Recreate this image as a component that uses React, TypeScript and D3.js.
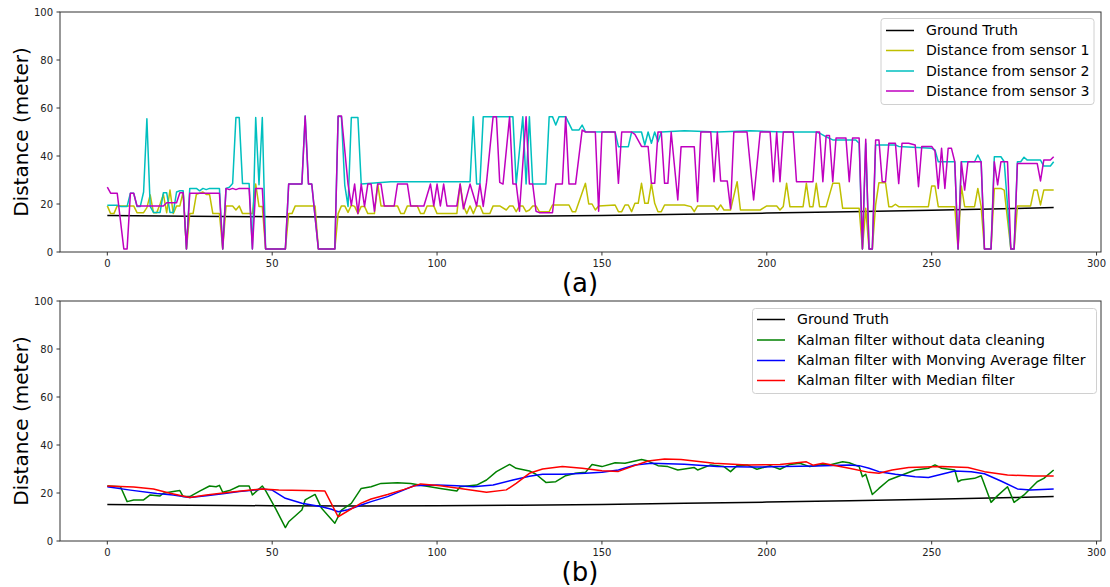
import React from "react";
import * as d3 from "d3";

// Each series is a list of [sample index, distance in metres] vertices.
type Pt = [number, number];

const xTicks = [0, 50, 100, 150, 200, 250, 300];
const yTicks = [0, 20, 40, 60, 80, 100];

const groundTruth: Pt[] = [
  [0, 15.2], [25, 14.9], [50, 14.7], [75, 14.6], [100, 14.7], [125, 14.9], [150, 15.2],
  [175, 15.7], [200, 16.2], [225, 16.8], [250, 17.4], [275, 18.1], [287, 18.5],
];

const sensor1: Pt[] = [
  [0, 19.2], [1, 16], [2, 16], [3, 19.2], [8, 19.2], [9, 16.4], [11, 16.4], [12, 18.5], [13, 23.8], [14, 16.4],
  [15, 16.4], [16, 20], [17, 24], [18, 16.4], [19, 25.8], [20, 16], [21, 19.2], [22, 19.2], [23, 25], [24, 1.3],
  [25, 16], [26, 16], [27, 24], [29, 25], [30, 24], [31, 24], [32, 16], [34, 16], [35, 1.3], [36, 19.2],
  [38, 19.2], [39, 17.5], [40, 19.2], [41, 16], [44, 16], [45, 28.3], [46, 19], [47, 19], [48, 1.3], [54, 1.3],
  [55, 16], [56, 16], [57, 19.2], [63, 19.2], [64, 1.3], [69, 1.3], [70, 16], [71, 19.2], [72, 19.2], [73, 16.5],
  [74, 19.5], [75, 19], [76, 16], [77, 19], [78, 19], [79, 16], [81, 16], [82, 28.3], [83, 19.2], [88, 19.2],
  [89, 16], [90, 16], [91, 19.2], [94, 19.2], [95, 16], [96, 16], [97, 19.2], [99, 19.2], [100, 16], [106, 16],
  [107, 28.3], [108, 19.2], [109, 16], [110, 19.2], [111, 16], [112, 19.2], [113, 19.2], [114, 16], [116, 16], [117, 19.2],
  [119, 19.2], [121, 17.5], [122, 19.2], [123, 19.2], [124, 16.8], [125, 19.2], [126, 19.2], [127, 16.8], [128, 17.5], [129, 19.2],
  [130, 19.2], [131, 16.8], [134, 16.8], [135, 19.6], [140, 19.6], [141, 16.8], [142, 16.8], [145, 28.6], [146, 20], [147, 20],
  [148, 17.5], [149, 19.2], [154, 19.6], [155, 16.8], [156, 16.8], [157, 19.6], [158, 19.6], [159, 16.8], [160, 20.3], [161, 20.3],
  [162, 28.6], [163, 20.3], [164, 20.3], [165, 28.6], [166, 20.3], [167, 16.8], [168, 16.8], [169, 19.6], [175, 19.6], [177, 18.9],
  [178, 16.8], [179, 19.2], [184, 19.2], [185, 17.5], [186, 19.6], [187, 17.5], [189, 17.5], [191, 29.3], [192, 17.5], [198, 17.5],
  [200, 19.2], [203, 19.2], [204, 17.5], [205, 19], [206, 28.6], [207, 18.9], [211, 18.9], [212, 28.6], [213, 18.9], [214, 18.9],
  [215, 28.6], [216, 18.9], [218, 18.9], [220, 28.6], [222, 28.6], [223, 18.2], [228, 18.2], [229, 1.3], [230, 18.2], [231, 1.3],
  [232, 1.3], [233, 19.6], [234, 28.9], [236, 28.9], [237, 18.9], [238, 18.9], [239, 19.9], [240, 18.9], [249, 18.9], [250, 27.5],
  [251, 27.5], [252, 18.9], [257, 18.9], [258, 1.3], [259, 27.5], [260, 18.9], [263, 18.9], [264, 26.5], [265, 18.9], [266, 1.3],
  [268, 1.3], [269, 26.5], [271, 26.5], [272, 25.8], [274, 1.3], [275, 1.3], [276, 19.2], [280, 19.2], [281, 25.8], [282, 25.8],
  [283, 19.6], [284, 25.8], [287, 25.8],
];

const sensor2: Pt[] = [
  [0, 19.5], [3, 19.5], [4, 19], [6, 19], [7, 24.5], [8, 24.5], [9, 19], [10, 19], [11, 25], [12, 55.5],
  [13, 19], [14, 16.5], [16, 16.5], [17, 24.7], [18, 24.7], [19, 16.5], [20, 16.5], [21, 25], [22, 25.5], [23, 25.5],
  [24, 1.3], [25, 26.5], [27, 26.5], [28, 25.5], [29, 26.5], [30, 26], [31, 26.5], [34, 26.5], [35, 1.3], [36, 26.5],
  [37, 27], [38, 28.5], [39, 56], [40, 56], [41, 28.5], [43, 28.5], [44, 1.3], [45, 56], [46, 28], [47, 56],
  [48, 1.3], [54, 1.3], [55, 28.3], [59, 28.3], [60, 56.7], [61, 28.3], [62, 28.3], [64, 1.3], [69, 1.3], [70, 56.5],
  [71, 56.5], [72, 28], [73, 19], [74, 56], [76, 56], [77, 28.3], [86, 29.3], [110, 29.3], [111, 56.4], [112, 28.3],
  [113, 28.3], [114, 56.4], [123, 56.4], [124, 28.3], [126, 56.4], [127, 28.3], [128, 56.4], [129, 28.3], [133, 28.3], [134, 56.4],
  [135, 56.4], [136, 52.9], [137, 56.4], [139, 56.4], [141, 50.8], [143, 50.8], [144, 52.9], [145, 50.1], [154, 50], [155, 43.9],
  [158, 43.9], [159, 50], [162, 50], [163, 44.6], [164, 50], [165, 45.3], [166, 50], [167, 45.9], [168, 50], [175, 50.5],
  [185, 50], [195, 50.5], [205, 50], [215, 50], [216, 49.5], [218, 48], [220, 46.7], [227, 46.7], [228, 45.3], [229, 1.3],
  [230, 45.3], [231, 1.3], [232, 1.3], [233, 44.6], [239, 44.6], [240, 44], [250, 43.2], [251, 42.5], [252, 37.6], [257, 37.6],
  [258, 1.3], [259, 37.6], [263, 37.6], [264, 40.4], [265, 37.6], [266, 1.3], [268, 1.3], [269, 39.7], [271, 39.7], [272, 37.6],
  [274, 1.3], [275, 1.3], [276, 37.6], [277, 37.6], [278, 39.5], [279, 38.3], [283, 38.3], [284, 35.8], [286, 35.8], [287, 37.6],
];

const sensor3: Pt[] = [
  [0, 27], [1, 24.5], [3, 24.5], [5, 1.3], [6, 1.3], [7, 24.5], [8, 24.5], [9, 19.2], [17, 19.2], [18, 20.5],
  [21, 20.5], [22, 24.7], [23, 24.7], [24, 1.3], [25, 24.5], [34, 24.5], [35, 1.3], [36, 26.5], [37, 26], [38, 26.5],
  [39, 26], [40, 26.5], [43, 26.5], [44, 1.3], [45, 26.5], [47, 26.5], [48, 1.3], [54, 1.3], [55, 28.3], [59, 28.3],
  [60, 56.7], [61, 28.3], [62, 28.3], [64, 1.3], [69, 1.3], [70, 56.7], [71, 56.7], [73, 28.3], [74, 19.4], [75, 28.3],
  [76, 16], [77, 28.3], [78, 19], [79, 28.3], [80, 28.3], [81, 17], [82, 28.3], [83, 28.3], [84, 19.2], [87, 19.2],
  [88, 28.3], [91, 28.3], [92, 19.2], [96, 19.2], [98, 28.3], [99, 19.2], [100, 28.3], [101, 19.2], [102, 28.3], [103, 19.2],
  [106, 19.2], [107, 28.3], [108, 18], [110, 28.3], [112, 19.2], [113, 28.3], [114, 19], [115, 29], [117, 56.4], [118, 56.4],
  [119, 29], [120, 28.3], [122, 56.4], [123, 28.3], [124, 28.3], [125, 17], [127, 56.4], [128, 28.3], [129, 28.3], [130, 17],
  [131, 16.4], [135, 16.4], [136, 28.3], [138, 28.3], [139, 56.4], [140, 28.3], [142, 28.3], [144, 50.8], [145, 50], [148, 50],
  [149, 17], [150, 50], [154, 50], [155, 28.6], [156, 50], [159, 50], [160, 49], [162, 44], [164, 44], [165, 28.6],
  [166, 28.6], [167, 50], [168, 50], [169, 28.6], [170, 28.6], [171, 50], [173, 21.7], [174, 43.9], [178, 43.9], [179, 21],
  [180, 50], [183, 50], [184, 29.3], [185, 50], [186, 29.6], [188, 29.6], [189, 18], [190, 50], [194, 50], [196, 21.7],
  [198, 50], [201, 50], [202, 29.3], [203, 50], [204, 29.3], [205, 50], [208, 50], [209, 29.3], [214, 29.3], [215, 50],
  [216, 50], [217, 29.3], [218, 48.5], [219, 48.5], [220, 29.3], [221, 47.5], [224, 47.5], [225, 29.3], [226, 47.5], [228, 47.5],
  [229, 1.3], [230, 47], [231, 1.3], [232, 1.3], [233, 46.7], [234, 46.7], [235, 29.3], [236, 29.3], [237, 45.3], [239, 45.3],
  [240, 28.5], [241, 45.3], [243, 45.3], [245, 44.6], [246, 27.2], [247, 44], [250, 44], [251, 42], [252, 26.5], [253, 43.2],
  [254, 26.5], [255, 43.2], [256, 43.2], [257, 37.6], [258, 1.3], [259, 37.6], [260, 25.8], [261, 37.6], [265, 37.6], [266, 1.3],
  [268, 1.3], [269, 37.6], [270, 28], [271, 37.6], [273, 37.6], [274, 1.3], [275, 1.3], [276, 36.9], [282, 36.9], [283, 29.6],
  [284, 38.3], [286, 38.3], [287, 39.7],
];

const kfRaw: Pt[] = [
  [0, 22.9], [4, 22.6], [6, 16.4], [8, 17.1], [11, 17.1], [13, 19.2], [16, 18.8], [17, 19.9], [20, 20.6], [22, 21],
  [23, 18.5], [25, 18.5], [28, 20.8], [31, 22.9], [33, 22.6], [34, 23.2], [35, 20.3], [37, 21], [40, 22.9], [43, 22.9],
  [44, 19.2], [47, 22.9], [48, 21], [51, 13.6], [54, 5.6], [55, 8], [59, 12.9], [60, 17.1], [63, 19.4], [65, 13.6],
  [69, 7.4], [71, 12.9], [74, 15.7], [77, 21.9], [80, 22.6], [83, 24], [88, 24.3], [92, 24], [96, 23], [101, 21.9],
  [106, 20.8], [107, 22.6], [112, 23.3], [115, 25.4], [118, 28.9], [122, 31.9], [124, 30.3], [128, 29.2], [130, 27.8], [133, 24.4],
  [136, 24.7], [139, 27.2], [142, 28.2], [145, 28.6], [147, 31.9], [150, 31], [154, 32.6], [157, 32.4], [162, 34], [164, 33.3],
  [167, 31.4], [170, 31], [173, 29.6], [178, 30.6], [179, 29.6], [183, 31.7], [187, 31], [189, 28.9], [191, 31.4], [194, 31.7],
  [197, 29.9], [201, 31.4], [204, 29.9], [207, 31.9], [210, 32.4], [213, 31], [217, 31.9], [219, 31.7], [223, 33], [225, 32.6],
  [228, 31], [229, 26.8], [230, 27.8], [232, 19.4], [234, 21.9], [237, 25.4], [241, 27.5], [245, 29.6], [249, 30.3], [251, 31.7],
  [253, 30.3], [257, 29.6], [258, 24.7], [259, 25.4], [263, 26.1], [265, 27.2], [268, 16.1], [270, 18.9], [273, 22.6], [275, 16.1],
  [278, 19.2], [282, 24.7], [284, 26.1], [287, 29.6],
];

const kfMovingAvg: Pt[] = [
  [0, 22.6], [7, 21.2], [15, 19.8], [20, 19.2], [25, 18.1], [30, 18.9], [35, 19.7], [40, 20.6], [44, 21.1], [47, 21.7],
  [50, 21.2], [54, 17.8], [59, 15.7], [65, 14.3], [68, 13.2], [70, 12.2], [73, 13], [77, 15], [80, 16.4], [85, 18.5],
  [90, 21.3], [93, 23], [100, 23.3], [106, 23], [111, 22.6], [117, 23.3], [123, 25.4], [128, 27], [132, 27.8], [138, 27.8],
  [145, 28.2], [150, 28.6], [155, 29.6], [160, 31.7], [165, 32.4], [175, 32], [185, 31], [195, 30.8], [205, 31], [215, 31.2],
  [225, 31.7], [228, 31.4], [231, 30.3], [234, 28.9], [239, 27.8], [245, 26.8], [249, 26.5], [253, 27.8], [257, 29.2], [262, 28.9],
  [266, 28], [271, 25], [276, 21.7], [280, 21.3], [287, 21.7],
];

const kfMedian: Pt[] = [
  [0, 22.9], [8, 22.5], [14, 21.7], [19, 19.9], [25, 18.1], [30, 19.2], [37, 20.3], [47, 21.7], [52, 21.3], [60, 21],
  [66, 20.8], [70, 10.1], [77, 15.8], [80, 17.5], [85, 19.4], [90, 21.5], [95, 23.8], [101, 23], [107, 21.9], [115, 20.3],
  [121, 21.3], [124, 24], [128, 28.2], [132, 30], [138, 31], [144, 30.3], [150, 29.3], [155, 29], [159, 31], [164, 33.3],
  [169, 34.2], [174, 34], [184, 32.4], [194, 31.7], [204, 31.9], [212, 33], [214, 31.6], [217, 32.4], [219, 31.9], [225, 30.3],
  [231, 28.6], [234, 28.2], [238, 29.6], [243, 30.6], [253, 31], [261, 30.6], [266, 28.9], [273, 27.5], [281, 27.1], [287, 27.1],
];

const topSeries = [
  { name: "Ground Truth", color: "#000000", data: groundTruth },
  { name: "Distance from sensor 1", color: "#bfbf00", data: sensor1 },
  { name: "Distance from sensor 2", color: "#00bfbf", data: sensor2 },
  { name: "Distance from sensor 3", color: "#bf00bf", data: sensor3 },
];

const bottomSeries = [
  { name: "Ground Truth", color: "#000000", data: groundTruth },
  { name: "Kalman filter without data cleaning", color: "#008000", data: kfRaw },
  { name: "Kalman filter with Monving Average filter", color: "#0000ff", data: kfMovingAvg },
  { name: "Kalman filter with Median filter", color: "#ff0000", data: kfMedian },
];

const FONT = "DejaVu Sans, sans-serif";
const AXIS = "#333333";

const x = d3.scaleLinear().domain([-14.35, 301.35]).range([60, 1101]);

type Series = { name: string; color: string; data: Pt[] };

function Panel({ top, bottom, series, tag, legend }: {
  top: number; bottom: number; series: Series[]; tag: string;
  legend: { x: number; y: number; w: number; h: number; handle: number; text: number; rows: number[] };
}) {
  const y = d3.scaleLinear().domain([0, 100]).range([bottom, top]);
  const line = d3.line<Pt>().x((d) => x(d[0])).y((d) => y(d[1]));
  const [x0, x1] = x.range();
  return (
    <g>
      <defs>
        <clipPath id={`clip-${tag}`}>
          <rect x={x0} y={top} width={x1 - x0} height={bottom - top} />
        </clipPath>
      </defs>
      <g clipPath={`url(#clip-${tag})`}>
        {series.map((s) => (
          <path key={s.name} d={line(s.data) ?? ""} fill="none" stroke={s.color} strokeWidth={1.5} strokeLinejoin="round" />
        ))}
      </g>
      <rect x={x0} y={top} width={x1 - x0} height={bottom - top} fill="none" stroke={AXIS} strokeWidth={1} />
      {xTicks.map((t) => (
        <g key={t} transform={`translate(${x(t)},${bottom})`}>
          <line y2={3.5} stroke={AXIS} />
          <text y={15} textAnchor="middle" fontSize={10} fontFamily={FONT} fill="#222">{t}</text>
        </g>
      ))}
      {yTicks.map((t) => (
        <g key={t} transform={`translate(${x0},${y(t)})`}>
          <line x2={-3.5} stroke={AXIS} />
          <text x={-7} dy="0.35em" textAnchor="end" fontSize={10} fontFamily={FONT} fill="#222">{t}</text>
        </g>
      ))}
      <text transform={`translate(28,${(top + bottom) / 2}) rotate(-90)`} textAnchor="middle" fontSize={20} fontFamily={FONT} fill="#000">
        Distance (meter)
      </text>
      <g>
        <rect x={legend.x} y={legend.y} width={legend.w} height={legend.h} rx={3} fill="#ffffff" fillOpacity={0.8} stroke="#d0d0d0" />
        {series.map((s, i) => (
          <g key={s.name} transform={`translate(0,${legend.rows[i]})`}>
            <line x1={legend.handle} x2={legend.handle + 28} stroke={s.color} strokeWidth={1.5} />
            <text x={legend.text} dy="0.35em" fontSize={14.1} fontFamily={FONT} fill="#000">{s.name}</text>
          </g>
        ))}
      </g>
    </g>
  );
}

export default function App() {
  return (
    <svg width={1110} height={587} style={{ position: "absolute", left: 0, top: 0, background: "#fff" }}>
      <rect width={1110} height={587} fill="#fff" />
      <Panel
        top={12}
        bottom={252}
        series={topSeries}
        tag="a"
        legend={{ x: 881, y: 18.5, w: 213, h: 86, handle: 886, text: 926, rows: [30.5, 50.5, 71, 91] }}
      />
      <text x={580} y={292} textAnchor="middle" fontSize={26} fontFamily={FONT}>(a)</text>
      <Panel
        top={301}
        bottom={541}
        series={bottomSeries}
        tag="b"
        legend={{ x: 752.5, y: 308.5, w: 344, h: 85, handle: 757, text: 797, rows: [319.5, 340, 360.5, 380.5] }}
      />
      <text x={580} y={581} textAnchor="middle" fontSize={26} fontFamily={FONT}>(b)</text>
    </svg>
  );
}
